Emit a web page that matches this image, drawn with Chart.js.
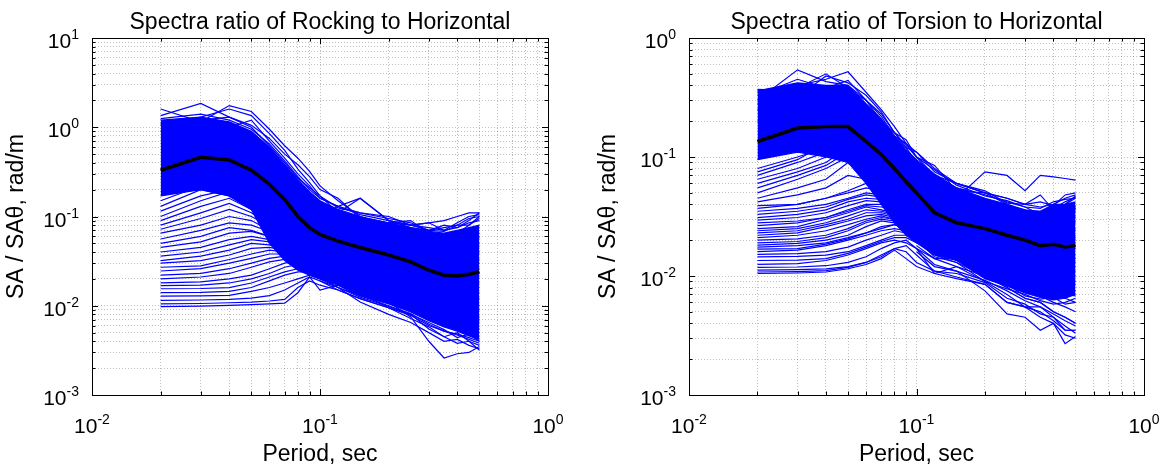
<!DOCTYPE html>
<html>
<head>
<meta charset="utf-8">
<script src="https://cdn.jsdelivr.net/npm/chart.js@4.4.1/dist/chart.umd.min.js"></script>
<style>
  html, body { margin: 0; padding: 0; background: #fff; }
  #wrap { position: relative; width: 1163px; height: 468px; overflow: hidden; }
  canvas { position: absolute; top: 0; }
</style>
</head>
<body>
<div id="wrap">
  <canvas id="rocking" width="580" height="468" style="left:0"></canvas>
  <canvas id="torsion" width="583" height="468" style="left:580px"></canvas>
</div>
<script>
// periods (sec) shared by every curve
const periods = [0.02, 0.03, 0.04, 0.05, 0.06, 0.07, 0.08, 0.09, 0.1, 0.12, 0.15, 0.2, 0.25, 0.3, 0.35, 0.4, 0.45, 0.5];

// major tick exponents (labels 10^n)
const xExp = [-2, -1, 0];
const rockYExp = [-3, -2, -1, 0, 1];
const torYExp = [-3, -2, -1, 0];

// ---- rocking / horizontal ----
const rockMean = [0.33, 0.46, 0.43, 0.33, 0.23, 0.155, 0.1, 0.075, 0.063, 0.053, 0.045, 0.037, 0.031, 0.025, 0.022, 0.0215, 0.0225, 0.024];
const rockUpper = [1.2, 1.3, 1.15, 0.9, 0.6, 0.38, 0.26, 0.19, 0.15, 0.12, 0.1, 0.085, 0.075, 0.068, 0.065, 0.07, 0.075, 0.08];
const rockLower = [0.17, 0.2, 0.17, 0.12, 0.05, 0.032, 0.025, 0.022, 0.02, 0.017, 0.013, 0.0105, 0.0085, 0.0068, 0.0058, 0.0052, 0.0046, 0.0042];
const rockHigh = [
  [1.6, 1.15, 1.75, 1.5, 0.95, 0.62, 0.45, 0.32, 0.22, 0.15, 0.1, 0.08, 0.07, 0.06, 0.055, 0.06, 0.07, 0.075],
  [1.35, 1.85, 1.3, 1.05, 0.75, 0.5, 0.38, 0.28, 0.2, 0.16, 0.095, 0.085, 0.09, 0.065, 0.06, 0.065, 0.08, 0.1],
  [1.05, 1.3, 1.6, 1.35, 0.85, 0.55, 0.34, 0.24, 0.17, 0.11, 0.16, 0.09, 0.075, 0.07, 0.08, 0.075, 0.09, 0.11],
  [0.9, 1.1, 1.0, 1.2, 0.7, 0.45, 0.3, 0.22, 0.16, 0.13, 0.11, 0.1, 0.08, 0.085, 0.07, 0.085, 0.1, 0.105],
  [1.25, 1.4, 1.2, 0.95, 0.65, 0.42, 0.28, 0.2, 0.16, 0.13, 0.105, 0.09, 0.08, 0.075, 0.07, 0.075, 0.085, 0.09],
  [1.1, 1.2, 1.3, 1.0, 0.62, 0.4, 0.27, 0.21, 0.17, 0.125, 0.11, 0.095, 0.085, 0.07, 0.068, 0.08, 0.08, 0.095]
];
const rockLow = [
  [0.0098, 0.0099, 0.0101, 0.0103, 0.0105, 0.0107, 0.014, 0.021, 0.015, 0.017, 0.013, 0.011, 0.0075, 0.004, 0.0026, 0.0029, 0.003, 0.0035],
  [0.0105, 0.0106, 0.0108, 0.011, 0.0113, 0.0118, 0.016, 0.019, 0.017, 0.015, 0.012, 0.0095, 0.008, 0.0055, 0.0045, 0.005, 0.004, 0.0032],
  [0.0115, 0.0116, 0.0118, 0.0122, 0.013, 0.015, 0.018, 0.021, 0.019, 0.016, 0.013, 0.01, 0.0082, 0.0062, 0.0052, 0.0048, 0.0044, 0.004],
  [0.0128, 0.0129, 0.0131, 0.0145, 0.016, 0.018, 0.02, 0.022, 0.02, 0.018, 0.014, 0.011, 0.009, 0.007, 0.006, 0.0055, 0.005, 0.0045],
  [0.014, 0.0141, 0.0145, 0.016, 0.019, 0.022, 0.024, 0.024, 0.022, 0.019, 0.015, 0.012, 0.0095, 0.008, 0.007, 0.0062, 0.0055, 0.005],
  [0.0155, 0.0156, 0.016, 0.018, 0.021, 0.024, 0.026, 0.028, 0.025, 0.022, 0.018, 0.014, 0.011, 0.009, 0.008, 0.007, 0.006, 0.0055],
  [0.0168, 0.017, 0.018, 0.02, 0.023, 0.027, 0.029, 0.027, 0.025, 0.021, 0.017, 0.013, 0.011, 0.0095, 0.0085, 0.0075, 0.007, 0.0065],
  [0.018, 0.0185, 0.02, 0.022, 0.026, 0.03, 0.032, 0.03, 0.028, 0.025, 0.02, 0.016, 0.013, 0.011, 0.0095, 0.0085, 0.008, 0.007],
  [0.02, 0.021, 0.023, 0.027, 0.031, 0.033, 0.032, 0.03, 0.027, 0.023, 0.019, 0.015, 0.012, 0.01, 0.009, 0.0082, 0.0078, 0.0075],
  [0.022, 0.023, 0.026, 0.03, 0.034, 0.036, 0.035, 0.033, 0.03, 0.027, 0.024, 0.02, 0.017, 0.014, 0.012, 0.011, 0.01, 0.009],
  [0.0245, 0.026, 0.03, 0.034, 0.038, 0.038, 0.036, 0.033, 0.031, 0.028, 0.025, 0.022, 0.018, 0.015, 0.013, 0.012, 0.011, 0.01],
  [0.027, 0.028, 0.033, 0.038, 0.042, 0.04, 0.037, 0.035, 0.033, 0.03, 0.027, 0.024, 0.02, 0.017, 0.015, 0.014, 0.013, 0.012],
  [0.03, 0.032, 0.037, 0.044, 0.045, 0.042, 0.039, 0.037, 0.035, 0.032, 0.029, 0.026, 0.022, 0.019, 0.017, 0.016, 0.015, 0.014],
  [0.032, 0.036, 0.042, 0.05, 0.048, 0.044, 0.04, 0.038, 0.036, 0.034, 0.031, 0.028, 0.025, 0.021, 0.019, 0.018, 0.017, 0.016],
  [0.036, 0.04, 0.048, 0.055, 0.052, 0.047, 0.043, 0.04, 0.038, 0.036, 0.033, 0.03, 0.027, 0.023, 0.021, 0.02, 0.019, 0.018],
  [0.04, 0.045, 0.055, 0.06, 0.055, 0.048, 0.045, 0.042, 0.04, 0.038, 0.035, 0.032, 0.029, 0.026, 0.024, 0.023, 0.022, 0.021],
  [0.045, 0.052, 0.065, 0.068, 0.06, 0.052, 0.048, 0.045, 0.043, 0.041, 0.038, 0.035, 0.031, 0.028, 0.026, 0.025, 0.024, 0.023],
  [0.05, 0.06, 0.075, 0.07, 0.06, 0.052, 0.05, 0.047, 0.045, 0.043, 0.04, 0.037, 0.034, 0.031, 0.029, 0.028, 0.027, 0.026],
  [0.056, 0.07, 0.085, 0.08, 0.068, 0.058, 0.053, 0.05, 0.048, 0.046, 0.043, 0.04, 0.037, 0.034, 0.032, 0.031, 0.03, 0.03],
  [0.065, 0.08, 0.1, 0.09, 0.07, 0.058, 0.055, 0.052, 0.05, 0.048, 0.045, 0.043, 0.04, 0.037, 0.035, 0.034, 0.033, 0.033],
  [0.072, 0.095, 0.12, 0.1, 0.078, 0.064, 0.058, 0.055, 0.053, 0.051, 0.048, 0.045, 0.042, 0.04, 0.038, 0.037, 0.037, 0.038],
  [0.08, 0.11, 0.14, 0.11, 0.08, 0.065, 0.06, 0.058, 0.056, 0.054, 0.051, 0.048, 0.045, 0.043, 0.041, 0.04, 0.04, 0.041],
  [0.09, 0.13, 0.16, 0.12, 0.088, 0.07, 0.063, 0.06, 0.058, 0.056, 0.053, 0.05, 0.048, 0.046, 0.044, 0.044, 0.045, 0.046],
  [0.1, 0.15, 0.19, 0.13, 0.095, 0.075, 0.068, 0.064, 0.062, 0.06, 0.057, 0.054, 0.052, 0.05, 0.048, 0.048, 0.049, 0.05],
  [0.115, 0.17, 0.2, 0.15, 0.1, 0.078, 0.07, 0.066, 0.063, 0.06, 0.058, 0.055, 0.053, 0.051, 0.05, 0.052, 0.055, 0.058],
  [0.13, 0.2, 0.17, 0.12, 0.085, 0.07, 0.065, 0.06, 0.058, 0.056, 0.054, 0.052, 0.05, 0.048, 0.047, 0.05, 0.055, 0.06],
  [0.15, 0.22, 0.21, 0.16, 0.11, 0.085, 0.075, 0.07, 0.067, 0.064, 0.061, 0.058, 0.056, 0.054, 0.053, 0.056, 0.06, 0.065]
];
const rockTail = [
  [null, null, null, null, null, null, null, null, 0.02, 0.016, 0.011, 0.008, 0.0065, 0.005, 0.004, 0.0042, 0.0036, 0.0033],
  [null, null, null, null, null, null, null, null, 0.022, 0.018, 0.014, 0.0095, 0.0072, 0.0058, 0.0045, 0.0038, 0.004, 0.0036],
  [null, null, null, null, null, null, null, null, 0.019, 0.015, 0.012, 0.0095, 0.0078, 0.006, 0.0052, 0.0047, 0.0042, 0.0038],
  [null, null, null, null, null, null, null, null, 0.021, 0.016, 0.0125, 0.0098, 0.008, 0.0065, 0.0054, 0.0044, 0.0048, 0.004],
  [null, null, null, null, null, null, null, null, 0.1, 0.13, 0.16, 0.09, 0.08, 0.07, 0.075, 0.08, 0.095, 0.1],
  [null, null, null, null, null, null, null, null, 0.09, 0.1, 0.09, 0.085, 0.08, 0.085, 0.09, 0.1, 0.11, 0.11]
];

// ---- torsion / horizontal ----
const torMean = [0.135, 0.175, 0.18, 0.18, 0.135, 0.105, 0.08, 0.062, 0.05, 0.034, 0.028, 0.025, 0.022, 0.02, 0.018, 0.0185, 0.0175, 0.018];
const torUpper = [0.36, 0.42, 0.4, 0.4, 0.28, 0.21, 0.15, 0.115, 0.095, 0.072, 0.055, 0.045, 0.04, 0.036, 0.035, 0.04, 0.04, 0.042];
const torLower = [0.095, 0.11, 0.1, 0.09, 0.06, 0.04, 0.028, 0.022, 0.019, 0.015, 0.0135, 0.0095, 0.0082, 0.0072, 0.0066, 0.0063, 0.0065, 0.007];
const torHigh = [
  [0.37, 0.36, 0.36, 0.37, 0.3, 0.22, 0.15, 0.12, 0.11, 0.08, 0.06, 0.05, 0.045, 0.04, 0.038, 0.04, 0.045, 0.048],
  [0.3, 0.54, 0.43, 0.4, 0.3, 0.2, 0.15, 0.13, 0.1, 0.07, 0.055, 0.048, 0.042, 0.038, 0.033, 0.036, 0.04, 0.045],
  [0.25, 0.4, 0.45, 0.52, 0.35, 0.25, 0.18, 0.13, 0.11, 0.075, 0.06, 0.05, 0.04, 0.035, 0.035, 0.037, 0.042, 0.046],
  [0.2, 0.3, 0.3, 0.3, 0.2, 0.16, 0.12, 0.1, 0.08, 0.06, 0.045, 0.075, 0.07, 0.052, 0.07, 0.068, 0.066, 0.064],
  [0.28, 0.32, 0.48, 0.42, 0.33, 0.24, 0.16, 0.14, 0.1, 0.085, 0.052, 0.05, 0.045, 0.04, 0.048, 0.036, 0.04, 0.047],
  [0.33, 0.45, 0.38, 0.44, 0.3, 0.23, 0.16, 0.125, 0.1, 0.078, 0.058, 0.047, 0.043, 0.038, 0.037, 0.042, 0.044, 0.045],
  [0.35, 0.38, 0.5, 0.38, 0.26, 0.2, 0.16, 0.12, 0.09, 0.07, 0.06, 0.052, 0.041, 0.04, 0.042, 0.039, 0.048, 0.05]
];
const torLow = [
  [0.0105, 0.0106, 0.0108, 0.0115, 0.0125, 0.014, 0.0165, 0.014, 0.012, 0.0105, 0.012, 0.009, 0.007, 0.0055, 0.0045, 0.004, 0.0032, 0.003],
  [0.0108, 0.0109, 0.0111, 0.0118, 0.013, 0.0145, 0.017, 0.016, 0.013, 0.011, 0.0105, 0.0088, 0.0065, 0.0058, 0.0048, 0.0045, 0.0038, 0.0033],
  [0.0112, 0.0113, 0.0115, 0.012, 0.013, 0.015, 0.017, 0.018, 0.015, 0.011, 0.0098, 0.0085, 0.006, 0.0055, 0.005, 0.0042, 0.0035, 0.0035],
  [0.0118, 0.0119, 0.0122, 0.013, 0.0145, 0.017, 0.019, 0.02, 0.017, 0.0125, 0.011, 0.0092, 0.0075, 0.0062, 0.0055, 0.0048, 0.0042, 0.0038],
  [0.0125, 0.0127, 0.0135, 0.015, 0.017, 0.019, 0.02, 0.019, 0.017, 0.014, 0.012, 0.01, 0.008, 0.0065, 0.006, 0.005, 0.0045, 0.004],
  [0.0135, 0.0136, 0.014, 0.0155, 0.0175, 0.0195, 0.021, 0.021, 0.019, 0.016, 0.0135, 0.011, 0.009, 0.0075, 0.0068, 0.006, 0.0055, 0.005],
  [0.0145, 0.0146, 0.015, 0.016, 0.018, 0.02, 0.022, 0.022, 0.02, 0.017, 0.015, 0.012, 0.01, 0.0085, 0.0075, 0.007, 0.0065, 0.006],
  [0.0152, 0.0154, 0.016, 0.0175, 0.02, 0.022, 0.024, 0.023, 0.021, 0.018, 0.016, 0.013, 0.011, 0.009, 0.008, 0.0075, 0.007, 0.0068],
  [0.016, 0.0165, 0.018, 0.02, 0.022, 0.024, 0.025, 0.024, 0.022, 0.019, 0.017, 0.014, 0.012, 0.01, 0.009, 0.0085, 0.008, 0.0075],
  [0.0168, 0.017, 0.0185, 0.0205, 0.023, 0.026, 0.027, 0.025, 0.023, 0.02, 0.018, 0.015, 0.013, 0.011, 0.01, 0.0092, 0.0088, 0.0085],
  [0.0175, 0.018, 0.019, 0.021, 0.023, 0.025, 0.027, 0.026, 0.024, 0.021, 0.019, 0.016, 0.014, 0.012, 0.011, 0.01, 0.0095, 0.009],
  [0.0182, 0.0188, 0.02, 0.022, 0.026, 0.029, 0.028, 0.026, 0.024, 0.022, 0.02, 0.017, 0.015, 0.013, 0.012, 0.011, 0.0105, 0.01],
  [0.019, 0.0195, 0.021, 0.024, 0.028, 0.03, 0.029, 0.027, 0.025, 0.023, 0.021, 0.018, 0.016, 0.014, 0.013, 0.012, 0.011, 0.011],
  [0.02, 0.0205, 0.022, 0.025, 0.029, 0.031, 0.03, 0.028, 0.026, 0.024, 0.022, 0.019, 0.017, 0.015, 0.014, 0.013, 0.012, 0.012],
  [0.021, 0.022, 0.024, 0.027, 0.03, 0.032, 0.03, 0.028, 0.026, 0.024, 0.022, 0.02, 0.018, 0.016, 0.015, 0.014, 0.013, 0.013],
  [0.022, 0.023, 0.026, 0.029, 0.032, 0.033, 0.031, 0.029, 0.027, 0.025, 0.023, 0.021, 0.019, 0.017, 0.016, 0.015, 0.015, 0.014],
  [0.023, 0.024, 0.027, 0.03, 0.034, 0.034, 0.032, 0.03, 0.028, 0.026, 0.024, 0.022, 0.02, 0.018, 0.017, 0.016, 0.016, 0.015],
  [0.024, 0.025, 0.028, 0.032, 0.036, 0.035, 0.033, 0.031, 0.029, 0.027, 0.025, 0.023, 0.021, 0.019, 0.018, 0.018, 0.017, 0.017],
  [0.025, 0.026, 0.03, 0.034, 0.038, 0.036, 0.034, 0.032, 0.03, 0.028, 0.026, 0.024, 0.022, 0.02, 0.019, 0.019, 0.018, 0.018],
  [0.0265, 0.028, 0.031, 0.035, 0.039, 0.038, 0.036, 0.034, 0.032, 0.029, 0.027, 0.025, 0.023, 0.021, 0.02, 0.02, 0.019, 0.019],
  [0.028, 0.029, 0.031, 0.036, 0.04, 0.04, 0.037, 0.035, 0.033, 0.03, 0.028, 0.026, 0.024, 0.022, 0.021, 0.021, 0.02, 0.02],
  [0.0295, 0.031, 0.034, 0.039, 0.043, 0.042, 0.039, 0.037, 0.035, 0.032, 0.029, 0.027, 0.025, 0.023, 0.022, 0.022, 0.021, 0.021],
  [0.031, 0.033, 0.036, 0.042, 0.045, 0.044, 0.04, 0.038, 0.036, 0.033, 0.03, 0.028, 0.026, 0.024, 0.023, 0.023, 0.022, 0.022],
  [0.033, 0.035, 0.038, 0.044, 0.048, 0.046, 0.042, 0.04, 0.037, 0.034, 0.031, 0.029, 0.027, 0.025, 0.024, 0.024, 0.024, 0.024],
  [0.035, 0.037, 0.04, 0.045, 0.05, 0.048, 0.044, 0.041, 0.039, 0.036, 0.033, 0.03, 0.028, 0.026, 0.025, 0.025, 0.025, 0.025],
  [0.037, 0.04, 0.045, 0.052, 0.06, 0.055, 0.05, 0.046, 0.043, 0.039, 0.036, 0.033, 0.031, 0.029, 0.028, 0.028, 0.029, 0.029],
  [0.039, 0.04, 0.045, 0.05, 0.055, 0.052, 0.048, 0.045, 0.042, 0.038, 0.035, 0.032, 0.03, 0.028, 0.027, 0.027, 0.027, 0.028],
  [0.042, 0.048, 0.055, 0.07, 0.065, 0.058, 0.052, 0.048, 0.045, 0.041, 0.038, 0.035, 0.033, 0.031, 0.03, 0.031, 0.031, 0.032],
  [0.045, 0.055, 0.065, 0.09, 0.07, 0.06, 0.052, 0.048, 0.045, 0.04, 0.037, 0.034, 0.032, 0.03, 0.029, 0.03, 0.03, 0.031],
  [0.05, 0.065, 0.08, 0.1, 0.08, 0.065, 0.056, 0.05, 0.047, 0.042, 0.039, 0.036, 0.034, 0.032, 0.031, 0.032, 0.033, 0.034],
  [0.055, 0.07, 0.085, 0.11, 0.085, 0.068, 0.058, 0.052, 0.048, 0.043, 0.04, 0.037, 0.034, 0.032, 0.031, 0.033, 0.034, 0.035],
  [0.06, 0.075, 0.09, 0.12, 0.09, 0.07, 0.06, 0.054, 0.05, 0.044, 0.04, 0.038, 0.035, 0.033, 0.032, 0.034, 0.035, 0.036],
  [0.065, 0.08, 0.1, 0.14, 0.1, 0.075, 0.063, 0.056, 0.05, 0.045, 0.041, 0.038, 0.035, 0.033, 0.032, 0.034, 0.036, 0.037],
  [0.07, 0.09, 0.11, 0.13, 0.1, 0.075, 0.063, 0.057, 0.052, 0.046, 0.042, 0.039, 0.036, 0.034, 0.033, 0.035, 0.037, 0.038],
  [0.075, 0.095, 0.13, 0.11, 0.085, 0.07, 0.06, 0.055, 0.05, 0.045, 0.041, 0.038, 0.036, 0.034, 0.033, 0.035, 0.037, 0.039],
  [0.08, 0.1, 0.12, 0.09, 0.075, 0.068, 0.06, 0.055, 0.05, 0.045, 0.041, 0.038, 0.035, 0.033, 0.032, 0.034, 0.036, 0.037]
];
const torTail = [
  [null, null, null, null, null, null, null, null, 0.016, 0.012, 0.011, 0.0075, 0.0048, 0.0045, 0.0035, 0.004, 0.0027, 0.0031],
  [null, null, null, null, null, null, null, null, 0.017, 0.0105, 0.0095, 0.0085, 0.006, 0.0055, 0.0055, 0.0045, 0.0035, 0.0035],
  [null, null, null, null, null, null, null, null, null, 0.015, 0.013, 0.01, 0.008, 0.0065, 0.006, 0.005, 0.0045, 0.004],
  [null, null, null, null, null, null, null, null, 0.02, 0.0145, 0.013, 0.009, 0.0078, 0.007, 0.0062, 0.0058, 0.006, 0.0065],
  [null, null, null, null, null, null, null, null, 0.018, 0.014, 0.014, 0.01, 0.0085, 0.0068, 0.0064, 0.0066, 0.0058, 0.006]
];

const FONT = "'Liberation Sans', Arial, Helvetica, sans-serif";
const blue = 'rgb(0,0,255)';
Chart.defaults.font.family = FONT;
Chart.defaults.color = '#000';

function logTicks(lo, hi) {
  const out = [];
  for (let e = lo; e < hi; e++) {
    for (let m = 1; m < 10; m++) out.push(Number((m * Math.pow(10, e)).toPrecision(3)));
  }
  out.push(Math.pow(10, hi));
  return out;
}

function pts(vals) {
  return periods.map((p, i) => ({x: p, y: vals[i]})).filter(d => d.y != null);
}

function line(vals, extra) {
  return Object.assign({
    data: pts(vals), borderColor: blue, borderWidth: 1.2, pointRadius: 0,
    fill: false, tension: 0, order: 1
  }, extra);
}

function buildSets(lower, upper, groups, mean) {
  const sets = [
    line(lower, {order: 2}),
    line(upper, {order: 2, fill: '-1', backgroundColor: blue})
  ];
  groups.forEach(g => g.forEach(v => sets.push(line(v))));
  sets.push(line(mean, {borderColor: '#000', borderWidth: 3.5, order: 0}));
  return sets;
}

function power(ctx, exp, x, y, align) {
  ctx.font = '21px ' + FONT;
  const base = ctx.measureText('10').width;
  ctx.font = '14px ' + FONT;
  const sup = ctx.measureText(String(exp)).width;
  const left = align === 'center' ? x - (base + sup) / 2 : x - base - sup;
  ctx.textAlign = 'left';
  ctx.textBaseline = 'alphabetic';
  ctx.font = '21px ' + FONT;
  ctx.fillText('10', left, y);
  ctx.font = '14px ' + FONT;
  ctx.fillText(String(exp), left + base, y - 9);
}

function isMajor(v) {
  const l = Math.log10(v);
  return Math.abs(l - Math.round(l)) < 1e-6;
}

// matlab-like box: inward ticks on all sides and 10^n labels
const frame = {
  id: 'frame',
  afterDraw(chart, args, opts) {
    const {ctx, chartArea: a, scales: {x, y}} = chart;
    ctx.save();
    ctx.strokeStyle = '#000';
    ctx.lineWidth = 1;
    ctx.beginPath();
    x.ticks.forEach(t => {
      const px = Math.round(x.getPixelForValue(t.value)) + 0.5;
      const len = isMajor(t.value) ? 6 : 3.5;
      ctx.moveTo(px, a.bottom); ctx.lineTo(px, a.bottom - len);
      ctx.moveTo(px, a.top); ctx.lineTo(px, a.top + len);
    });
    y.ticks.forEach(t => {
      const py = Math.round(y.getPixelForValue(t.value)) + 0.5;
      const len = isMajor(t.value) ? 6 : 3.5;
      ctx.moveTo(a.left, py); ctx.lineTo(a.left + len, py);
      ctx.moveTo(a.right, py); ctx.lineTo(a.right - len, py);
    });
    ctx.stroke();
    ctx.strokeRect(Math.round(a.left) + 0.5, Math.round(a.top) + 0.5, Math.round(a.width), Math.round(a.height));

    ctx.fillStyle = '#000';
    opts.xExp.forEach(e => power(ctx, e, x.getPixelForValue(Math.pow(10, e)), a.bottom + 38, 'center'));
    opts.yExp.forEach(e => power(ctx, e, a.left - 13, y.getPixelForValue(Math.pow(10, e)) + 10, 'right'));
    ctx.restore();
  }
};

function makeChart(id, title, sets, yTop, yExp, yPad, rightPad) {
  const xTicks = logTicks(-2, 0);
  const yTicks = logTicks(-3, yTop);
  const grid = {color: 'rgba(0,0,0,0.25)', lineWidth: 1, drawTicks: false};
  return new Chart(document.getElementById(id), {
    type: 'line',
    data: {datasets: sets},
    options: {
      responsive: false,
      animation: false,
      events: [],
      layout: {padding: {left: 0, right: rightPad, top: 0, bottom: 0}},
      plugins: {
        legend: {display: false},
        tooltip: {enabled: false},
        title: {
          display: true, text: title, fullSize: false, color: '#000',
          font: {size: 23, weight: 'normal'},
          padding: {top: 9.2, bottom: 1.2}
        },
        frame: {xExp: xExp, yExp: yExp}
      },
      scales: {
        x: {
          type: 'logarithmic', min: 0.01, max: 1,
          afterBuildTicks: s => { s.ticks = xTicks.map(v => ({value: v})); },
          ticks: {display: false},
          grid: grid,
          border: {display: false, dash: [1, 2]},
          title: {display: true, text: 'Period, sec', color: '#000', font: {size: 23}, padding: {top: 45.4, bottom: 0}}
        },
        y: {
          type: 'logarithmic', min: 0.001, max: Math.pow(10, yTop),
          afterBuildTicks: s => { s.ticks = yTicks.map(v => ({value: v})); },
          ticks: {display: false},
          grid: grid,
          border: {display: false, dash: [1, 2]},
          title: {display: true, text: 'SA / SAθ, rad/m', color: '#000', font: {size: 23}, padding: yPad}
        }
      }
    },
    plugins: [frame]
  });
}

makeChart('rocking', 'Spectra ratio of Rocking to Horizontal',
  buildSets(rockLower, rockUpper, [rockHigh, rockLow, rockTail], rockMean),
  1, rockYExp, {top: 3.2, bottom: 61.2}, 32);

makeChart('torsion', 'Spectra ratio of Torsion to Horizontal',
  buildSets(torLower, torUpper, [torHigh, torLow, torTail], torMean),
  0, torYExp, {top: 15.2, bottom: 66.2}, 19);
</script>
</body>
</html>
